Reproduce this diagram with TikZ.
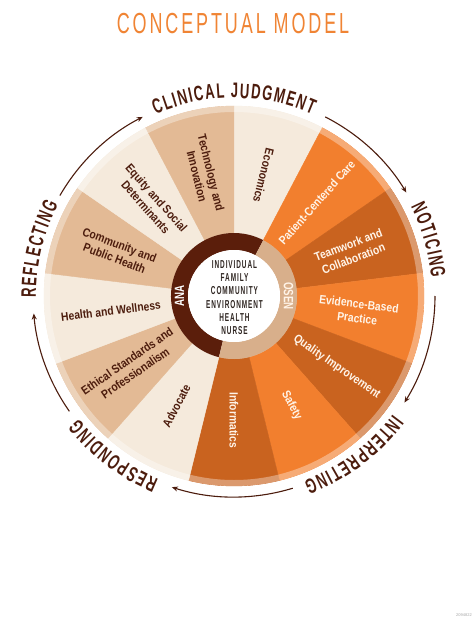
\documentclass[tikz,border=0pt]{standalone}
\usepackage{fontspec}
\setmainfont{Liberation Sans}
\newfontfamily\lblfont[FakeStretch=0.86]{Liberation Sans}
\newfontfamily\outfont[FakeStretch=0.62]{Liberation Sans}
\newfontfamily\ringfont[FakeStretch=0.72]{Liberation Sans}
\newfontfamily\ctrfont[FakeStretch=0.56, LetterSpace=8]{Liberation Sans}
\newfontfamily\ttlfont[FakeStretch=0.62, LetterSpace=10]{Liberation Sans}
\usetikzlibrary{arrows.meta}
\definecolor{cream}{HTML}{F5EADC}
\definecolor{segtan}{HTML}{E3BA95}
\definecolor{orng}{HTML}{F27F2E}
\definecolor{dorng}{HTML}{C9631F}
\definecolor{anabrown}{HTML}{5B1E0B}
\definecolor{osentan}{HTML}{D8AF8B}
\definecolor{dktext}{HTML}{4C1C0D}
\definecolor{lttext}{HTML}{FFF4E8}
\definecolor{ttlorange}{HTML}{F08434}
\definecolor{ctrtext}{HTML}{2F2622}
\tikzset{
  seglbl/.style={font=\lblfont\bfseries\fontsize{12}{14.5}\selectfont, align=center, inner sep=0pt},
  darklbl/.style={seglbl, text=dktext},
  lightlbl/.style={seglbl, text=lttext},
  cyc/.style={draw=dktext, line width=1.1pt, -{Stealth[length=6pt,width=5pt]}},
  ringlbl/.style={font=\ringfont\bfseries\fontsize{13.5}{13.5}\selectfont, inner sep=0pt},
  outlbl/.style={font=\outfont\bfseries\fontsize{21}{21}\selectfont, text=dktext, anchor=base, inner sep=0pt},
}
% letters placed one by one along a clockwise arc of radius 198
\newcommand{\arcword}[3]{%
  \xdef\awtot{0}%
  \foreach \ch/\w in {#3}{\pgfmathsetmacro\awt{\awtot+\w*13.02+1.5}\xdef\awtot{\awt}}%
  \pgfmathsetmacro\awstart{#2+(\awtot-1.5)/2/198*57.29578}%
  \xdef\awcum{0}%
  \foreach \ch/\w [count=\k] in {#3}{%
    \pgfmathsetmacro\awang{\awstart-(\awcum+\w*6.51)/198*57.29578}%
    \node[outlbl, rotate=\awang-90] (#1\k) at (\awang:198) {\ch};%
    \pgfmathsetmacro\awt{\awcum+\w*13.02+1.5}\xdef\awcum{\awt}}%
}
\begin{document}
\begin{tikzpicture}[x=1pt,y=1pt]
\useasboundingbox (-234,-326) rectangle (240,296);
\fill[white] (-234,-326) rectangle (240,296);

% title
\node[font=\ttlfont\fontsize{29}{29}\selectfont, text=ttlorange, anchor=base, inner sep=0pt] (title) at (-1,263) {CONCEPTUAL MODEL};

% wheel segments
\foreach \i/\c in {0/cream,1/orng,2/dorng,3/orng,4/dorng,5/orng,6/dorng,7/cream,8/segtan,9/cream,10/segtan,11/cream,12/segtan}{
  \pgfmathsetmacro\a{90-27.6923*\i}
  \pgfmathsetmacro\b{90-27.6923*(\i+1)}
  \fill[\c, draw=\c, line width=0.4pt] (\a:63) arc[start angle=\a, end angle=\b, radius=63]
     -- (\b:190) arc[start angle=\b, end angle=\a, radius=190] -- cycle;
}
% lighter outer rim
\fill[white, fill opacity=0.35, even odd rule] (0,0) circle[radius=190] (0,0) circle[radius=184];

% inner ring
\fill[anabrown] (62.31:46) arc[start angle=62.31, end angle=256.15, radius=46]
   -- (256.15:63) arc[start angle=256.15, end angle=62.31, radius=63] -- cycle;
\fill[osentan] (-103.85:46) arc[start angle=-103.85, end angle=62.31, radius=46]
   -- (62.31:63) arc[start angle=62.31, end angle=-103.85, radius=63] -- cycle;
\fill[white] (0,0) circle[radius=46];

\node[ringlbl, text=white, rotate=90] (ana) at (180:54.5) {ANA};
\node[ringlbl, text=lttext, rotate=-90] (osen) at (0:54.5) {OSEN};

\node[font=\ctrfont\bfseries\fontsize{11.5}{13.3}\selectfont, text=ctrtext, align=center, inner sep=0pt] (core) at (0.5,-1.5)
  {INDIVIDUAL\\FAMILY\\COMMUNITY\\ENVIRONMENT\\HEALTH\\NURSE};

% segment labels
\node[darklbl, rotate=-103.85] (economics) at (76.15:124) {Economics};
\node[lightlbl, rotate=48.46] (pcc) at (48.46:125) {Patient-Centered Care};
\node[lightlbl, rotate=20.77] (team) at (20.77:125) {Teamwork and\\Collaboration};
\node[lightlbl, rotate=-6.92] (ebp) at (-6.92:125) {Evidence-Based\\Practice};
\node[lightlbl, rotate=-34.62] (qi) at (-34.62:125) {Quality Improvement};
\node[lightlbl, rotate=-62.31] (safety) at (-62.31:124) {Safety};
\node[lightlbl, rotate=-90] (informatics) at (-90:124) {Informatics};
\node[darklbl, rotate=62.31] (advocate) at (-117.69:124) {Advocate};
\node[darklbl, rotate=34.62] (ethical) at (-145.38:125) {Ethical Standards and\\Professionalism};
\node[darklbl, rotate=6.92] (health) at (-173.08:124) {Health and Wellness};
\node[darklbl, rotate=-20.77] (community) at (159.23:125) {Community and\\Public Health};
\node[darklbl, rotate=-48.46] (equity) at (131.54:125) {Equity and Social\\Determinants};
\node[darklbl, rotate=-76.15] (tech) at (103.85:125) {Technology and\\Innovation};

% outer cycle texts
\arcword{cj}{90}{C/0.722,L/0.611,I/0.278,N/0.722,I/0.278,C/0.722,A/0.722,L/0.611,{}/0.25,J/0.556,U/0.722,D/0.722,G/0.778,M/0.833,E/0.667,N/0.722,T/0.611}
\arcword{no}{16}{N/0.722,O/0.778,T/0.611,I/0.278,C/0.722,I/0.278,N/0.722,G/0.778}
\arcword{in}{-53}{I/0.278,N/0.722,T/0.611,E/0.667,R/0.722,P/0.667,R/0.722,E/0.667,T/0.611,I/0.278,N/0.722,G/0.778}
\arcword{re}{-127}{R/0.722,E/0.667,S/0.667,P/0.667,O/0.778,N/0.722,D/0.722,I/0.278,N/0.722,G/0.778}
\arcword{rf}{166.5}{R/0.722,E/0.667,F/0.611,L/0.611,E/0.667,C/0.722,T/0.611,I/0.278,N/0.722,G/0.778}

% cycle arrows
\coordinate (a1) at (150:201);
\draw[cyc] (a1) arc[start angle=150, end angle=117, radius=201];
\coordinate (a2) at (63:201);
\draw[cyc] (a2) arc[start angle=63, end angle=31, radius=201];
\coordinate (a3) at (0:201);
\draw[cyc] (a3) arc[start angle=0, end angle=-32, radius=201];
\coordinate (a4) at (-73:201);
\draw[cyc] (a4) arc[start angle=-73, end angle=-108, radius=201];
\coordinate (a5) at (-145:201);
\draw[cyc] (a5) arc[start angle=-145, end angle=-175, radius=201];

\node[font=\fontsize{4}{4}\selectfont, text=gray!70, inner sep=0pt] (code) at (230,-319.5) {2094822};
\end{tikzpicture}
\end{document}
